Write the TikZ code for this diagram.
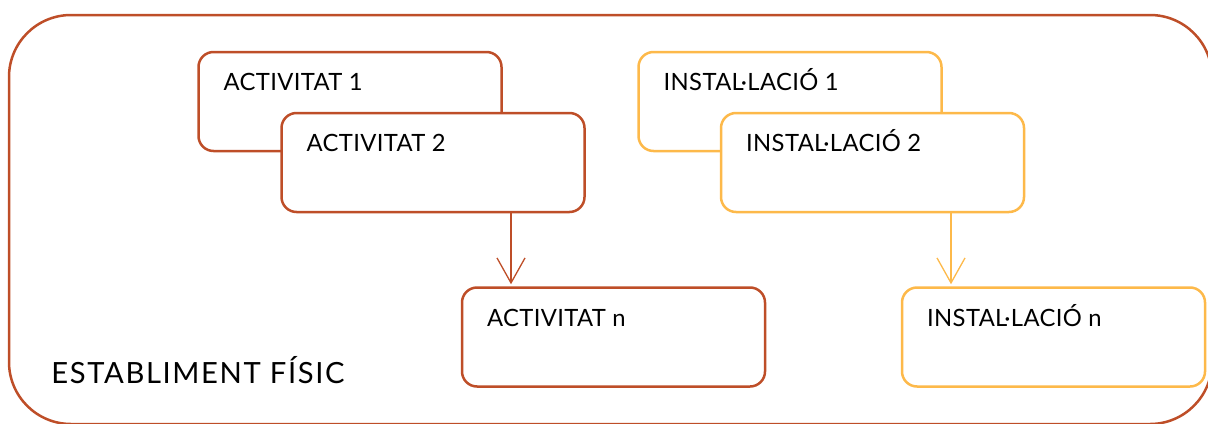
\documentclass[tikz,border=0pt]{standalone}
\usepackage{fontspec}
\setmainfont[LetterSpace=1.5]{Lato}
\newfontfamily\estfont[LetterSpace=5.5]{Lato}
\definecolor{actred}{RGB}{190,78,40}
\definecolor{instyellow}{RGB}{253,185,74}
\usetikzlibrary{arrows.meta}
\tikzset{
  actbox/.style={draw=actred, line width=1.25pt, rounded corners=7.5pt, fill=white,
    minimum width=151.5pt, minimum height=49.5pt, inner sep=0pt},
  instbox/.style={actbox, draw=instyellow},
  boxtext/.style={anchor=base west, inner sep=0pt, font=\fontsize{11.9}{14}\selectfont},
  flow/.style={line width=0.65pt, shorten >=1pt, -{Straight Barb[length=12.5pt,width=14pt]}},
}

\begin{document}
\begin{tikzpicture}[x=0.5pt, y=-0.5pt]
  \useasboundingbox (0,0) rectangle (1208,423);

  % establishment frame (runs past the page on the right and bottom)
  \draw [actred, line width=1.25pt, rounded corners=31pt] (9,15) rectangle (1212,424);
  \node [anchor=base west, inner sep=0pt, font=\estfont\fontsize{14.6}{17}\selectfont] (est) at (51,383) {ESTABLIMENT FÍSIC};

  % activities
  \node [actbox] (a1) at (350,101.5) {};
  \node [boxtext] (a1t) at ([shift={(26,40)}]a1.north west) {ACTIVITAT 1};
  \node [actbox] (a2) at (433,162.5) {};
  \node [boxtext] (a2t) at ([shift={(26,40)}]a2.north west) {ACTIVITAT 2};
  \node [actbox] (an) at (613.5,337) {};
  \node [boxtext] (ant) at ([shift={(26,40)}]an.north west) {ACTIVITAT n};

  % installations
  \node [instbox] (i1) at (790,101.5) {};
  \node [boxtext] (i1t) at ([shift={(26,40)}]i1.north west) {INSTAL·LACIÓ 1};
  \node [instbox] (i2) at (872.5,162.5) {};
  \node [boxtext] (i2t) at ([shift={(26,40)}]i2.north west) {INSTAL·LACIÓ 2};
  \node [instbox] (in) at (1053.5,337) {};
  \node [boxtext] (int) at ([shift={(26,40)}]in.north west) {INSTAL·LACIÓ n};

  % arrows down to the n-th box
  \coordinate (ax) at (511,0);
  \coordinate (ix) at (951,0);
  \draw [flow, actred] (a2.south -| ax) -- (an.north -| ax);
  \draw [flow, instyellow] (i2.south -| ix) -- (in.north -| ix);

\end{tikzpicture}
\end{document}
